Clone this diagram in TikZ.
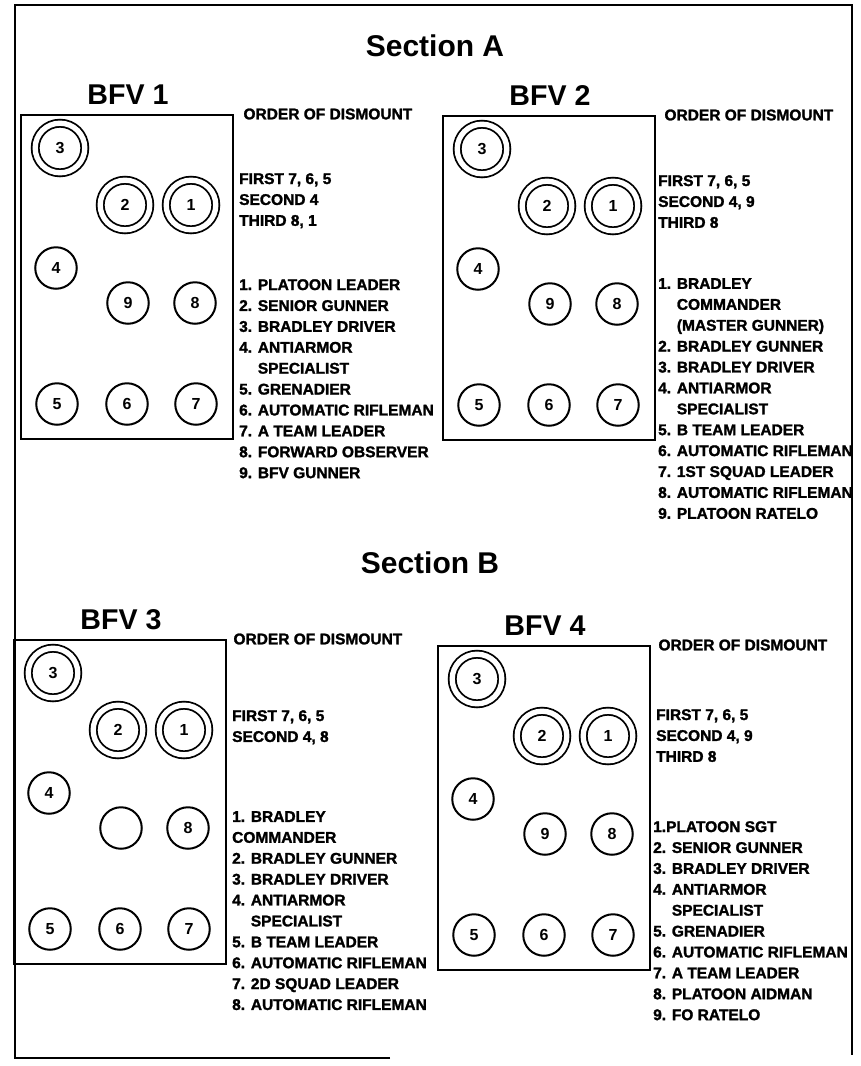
\documentclass[tikz,border=0pt]{standalone}
\usepackage{fontspec}
\setmainfont{Liberation Sans}
\newfontfamily\heavyfont{Liberation Sans}[UprightFont=*-Bold,FakeBold=1.6]
\usetikzlibrary{positioning}

% one vehicle: hull, title and the nine seats
\newcommand{\bfvcar}[4]{%
  \begin{scope}[shift={(#2)},name prefix=#1-]
    \node[hull] (hull) at (0,0) {};
    \node[cartitle] (title) at (108,-19) {BFV #3};
    \node[dseat] (s3) at (40,34) {3};
    \node[dseat] (s2) at (105,91) {2};
    \node[dseat] (s1) at (171,91) {1};
    \node[seat] (s4) at (36,154) {4};
    \node[seat] (s9) at (108,189) {#4};
    \node[seat] (s8) at (175,189) {8};
    \node[seat] (s5) at (37,290) {5};
    \node[seat] (s6) at (107,290) {6};
    \node[seat] (s7) at (176,290) {7};
  \end{scope}}

\begin{document}
\begin{tikzpicture}[x=1pt,y=-1pt,
    hull/.style={draw,line width=2.3pt,anchor=north west,inner sep=0pt,
      minimum width=212pt,minimum height=324pt},
    seat/.style={circle,draw,line width=2pt,minimum size=41.5pt,inner sep=0pt,
      font=\fontsize{16}{16}\selectfont\bfseries},
    dseat/.style={seat,double,double distance=5.3pt,line width=1.8pt,minimum size=49.6pt},
    cartitle/.style={font=\fontsize{28.6}{30}\selectfont\bfseries,inner sep=0pt},
    secttitle/.style={font=\fontsize{30}{32}\selectfont\bfseries,inner sep=0pt},
    order/.style={font=\fontsize{15.5}{20.9}\selectfont\heavyfont,anchor=west,inner sep=0pt},
    txt/.style={font=\fontsize{15.5}{20.9}\selectfont\heavyfont,align=left,
      anchor=north west,inner sep=0pt},
    frame/.style={line width=2pt}
  ]
  \useasboundingbox (0,0) rectangle (861,1066);
  \draw[frame] (390,1058) -- (15,1058) -- (15,5) -- (852,5) -- (852,1055);

  \node[secttitle] (secA) at (435,46) {Section A};
  \node[secttitle] (secB) at (430,563) {Section B};

  % Section A
  \bfvcar{b1}{20,114}{1}{9}
  \node[order,right=9pt of b1-hull.north east] (b1-order) {ORDER OF DISMOUNT};
  \node[txt] (b1-first) at (239,173) {FIRST 7, 6, 5\\SECOND 4\\THIRD 8, 1};
  \node[txt] (b1-roles) at (239,279) {1. PLATOON LEADER\\2. SENIOR GUNNER\\
    3. BRADLEY DRIVER\\4. ANTIARMOR\\\phantom{4. }SPECIALIST\\5. GRENADIER\\
    6. AUTOMATIC RIFLEMAN\\7. A TEAM LEADER\\8. FORWARD OBSERVER\\9. BFV GUNNER};

  \bfvcar{b2}{442,115}{2}{9}
  \node[order,right=8pt of b2-hull.north east] (b2-order) {ORDER OF DISMOUNT};
  \node[txt] (b2-first) at (658,175) {FIRST 7, 6, 5\\SECOND 4, 9\\THIRD 8};
  \node[txt] (b2-roles) at (658,278) {1. BRADLEY\\\phantom{1. }COMMANDER\\
    \phantom{1. }(MASTER GUNNER)\\2. BRADLEY GUNNER\\3. BRADLEY DRIVER\\
    4. ANTIARMOR\\\phantom{4. }SPECIALIST\\5. B TEAM LEADER\\6. AUTOMATIC RIFLEMAN\\
    7. 1ST SQUAD LEADER\\8. AUTOMATIC RIFLEMAN\\9. PLATOON RATELO};

  % Section B
  \bfvcar{b3}{13,639}{3}{}
  \node[order,right=6pt of b3-hull.north east] (b3-order) {ORDER OF DISMOUNT};
  \node[txt] (b3-first) at (232,710) {FIRST 7, 6, 5\\SECOND 4, 8};
  \node[txt] (b3-roles) at (232,811) {1. BRADLEY\\COMMANDER\\2. BRADLEY GUNNER\\
    3. BRADLEY DRIVER\\4. ANTIARMOR\\\phantom{4. }SPECIALIST\\5. B TEAM LEADER\\
    6. AUTOMATIC RIFLEMAN\\7. 2D SQUAD LEADER\\8. AUTOMATIC RIFLEMAN};

  \bfvcar{b4}{437,645}{4}{9}
  \node[order,right=7pt of b4-hull.north east] (b4-order) {ORDER OF DISMOUNT};
  \node[txt] (b4-first) at (656,709) {FIRST 7, 6, 5\\SECOND 4, 9\\THIRD 8};
  \node[txt] (b4-roles) at (653,821) {1.PLATOON SGT\\2. SENIOR GUNNER\\
    3. BRADLEY DRIVER\\4. ANTIARMOR\\\phantom{4. }SPECIALIST\\5. GRENADIER\\
    6. AUTOMATIC RIFLEMAN\\7. A TEAM LEADER\\8. PLATOON AIDMAN\\9. FO RATELO};
\end{tikzpicture}
\end{document}
